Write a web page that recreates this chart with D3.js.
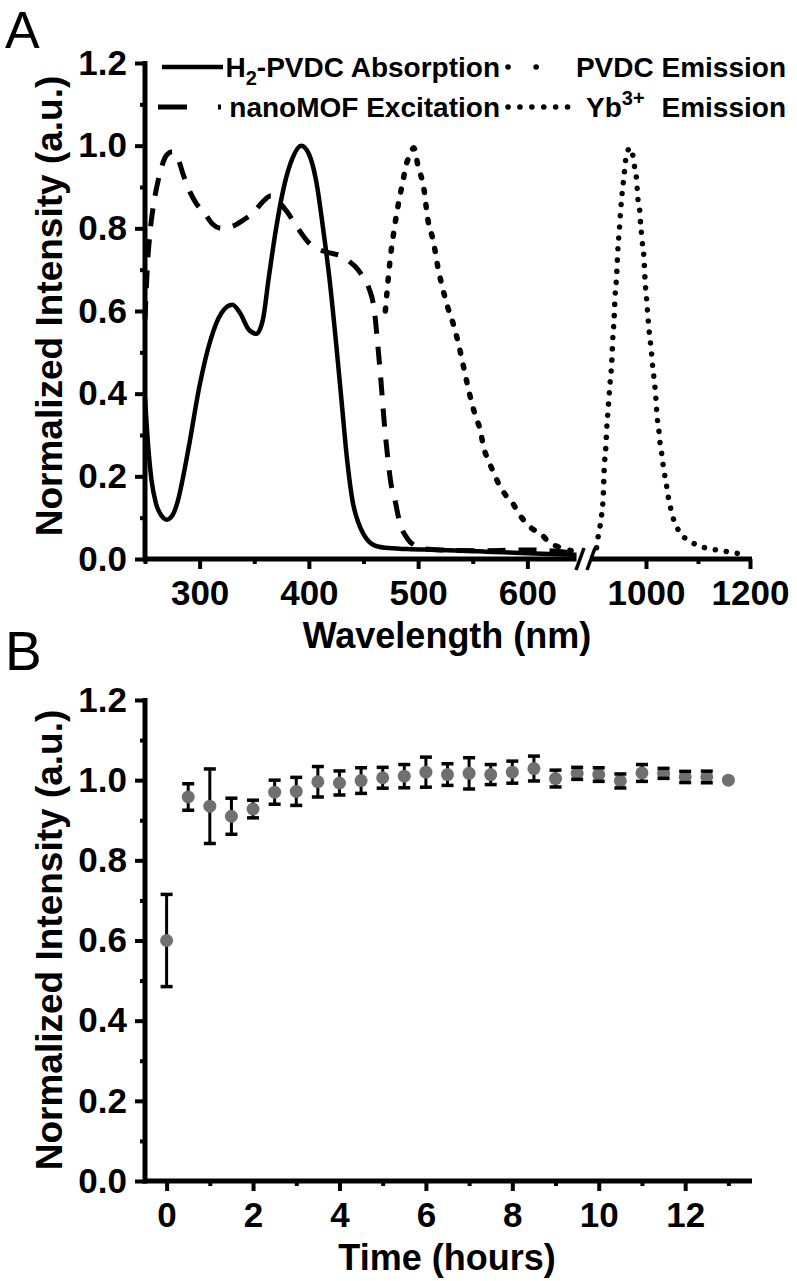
<!DOCTYPE html>
<html><head><meta charset="utf-8">
<script src="https://cdn.jsdelivr.net/npm/d3@7"></script>
<style>body{margin:0;background:#fff}svg{display:block}</style>
</head><body>
<svg id="c" width="797" height="1281"></svg>
<script>
// ---------- Panel A data ----------
const absWl = [250,253,256,260,265,270,275,280,285,290,300,310,320,330,337,345,352,358,363,370,378,385,393,400,407,413,419,425,430,435,440,445,450,455,460,470,490,520,560,600,645];
const absVal = [0.39,0.27,0.19,0.135,0.105,0.095,0.105,0.14,0.2,0.27,0.42,0.53,0.595,0.615,0.595,0.555,0.545,0.58,0.675,0.8,0.91,0.97,1.0,0.98,0.91,0.8,0.675,0.52,0.38,0.24,0.14,0.09,0.06,0.042,0.033,0.027,0.024,0.022,0.018,0.014,0.01];

const excWl = [250,252,255,258,262,266,270,275,280,285,290,297,305,312,320,330,340,350,358,365,372,380,390,400,410,420,430,437,445,450,455,460,463,466,469,472,475,479,483,490,497,505,520,560,600,640];
const excVal = [0.58,0.7,0.8,0.86,0.915,0.955,0.978,0.985,0.97,0.93,0.895,0.86,0.835,0.81,0.8,0.805,0.82,0.84,0.865,0.878,0.865,0.84,0.8,0.765,0.748,0.74,0.733,0.72,0.7,0.68,0.655,0.6,0.52,0.43,0.33,0.25,0.185,0.14,0.09,0.05,0.032,0.025,0.022,0.02,0.022,0.015];

const pvdcWl = [470,472,474,478,482,486,489,492.5,496,500,505,509,514,518,522,527,532,537,542,547,552,557,560,564,569,575,580,586,592,598,604,612,620,630,640];
const pvdcVal = [0.6,0.66,0.715,0.796,0.86,0.913,0.953,0.977,0.995,0.95,0.9,0.82,0.768,0.707,0.66,0.61,0.57,0.52,0.46,0.4,0.35,0.31,0.27,0.24,0.21,0.175,0.155,0.138,0.11,0.09,0.074,0.062,0.04,0.028,0.02];

const ybWl = [905,908,911.5,914.7,918,919.5,922.4,924.5,927.5,930.8,934,936,938.5,940.5,943.6,945.5,948.7,951.3,955,957.7,959.6,962.9,969,975.6,978.8,982,983.5,985,988.5,989.7,991.7,993.6,996,998,1001.3,1004.5,1006.4,1009,1011,1012.9,1015,1019,1020.6,1022.4,1025,1027,1030,1033,1036.5,1039.8,1042.9,1047.4,1052.5,1059,1068.6,1081,1097.4,1116.7,1135.9,1155,1174,1193.6];
const ybVal = [0.027,0.054,0.078,0.106,0.159,0.215,0.264,0.316,0.368,0.425,0.474,0.53,0.578,0.635,0.687,0.74,0.796,0.844,0.897,0.925,0.953,0.977,0.995,0.97,0.941,0.917,0.889,0.864,0.836,0.808,0.784,0.756,0.731,0.679,0.627,0.574,0.546,0.518,0.494,0.465,0.441,0.389,0.36,0.332,0.308,0.28,0.256,0.227,0.199,0.175,0.15,0.123,0.098,0.078,0.058,0.046,0.034,0.026,0.022,0.018,0.014,0.01];

const xMajorA = [300,400,500,600,1000,1200];
const xMinorA = [250,350,450,550,1100];
const yMajor = [0,0.2,0.4,0.6,0.8,1.0,1.2];
const yMinor = [0.1,0.3,0.5,0.7,0.9,1.1];

// ---------- Panel B data ----------
const times = [0,0.5,1,1.5,2,2.5,3,3.5,4,4.5,5,5.5,6,6.5,7,7.5,8,8.5,9,9.5,10,10.5,11,11.5,12,12.5,13];
const means = [0.60,0.958,0.935,0.91,0.928,0.97,0.972,0.996,0.993,0.999,1.006,1.01,1.02,1.014,1.017,1.014,1.02,1.029,1.004,1.017,1.014,0.998,1.018,1.017,1.008,1.008,1.0];
const errs  = [0.115,0.033,0.093,0.045,0.022,0.03,0.035,0.038,0.03,0.032,0.026,0.029,0.0375,0.027,0.039,0.025,0.0275,0.031,0.021,0.015,0.017,0.0175,0.021,0.0125,0.014,0.0145,0];
const xMajorB = [0,2,4,6,8,10,12];
const xMinorB = [1,3,5,7,9,11,13];

// ---------- drawing ----------
const FONT = "'Liberation Sans', Arial, Helvetica, sans-serif";
const svg = d3.select("#c");

const xA = d3.scaleLinear().domain([250,650,900,1200]).range([145,582,594,750]);
const yA = d3.scaleLinear().domain([0,1.2]).range([559,63]);
const xB = d3.scaleLinear().domain([-0.5,13.5]).range([145,750]);
const yB = d3.scaleLinear().domain([0,1.2]).range([1181,700]);

function styleAxis(g, labels){
  g.select(".domain").remove();
  g.selectAll(".tick line").attr("stroke","#000").attr("stroke-width",4);
  g.selectAll(".tick text").attr("fill","#000").style("font-family",FONT)
    .style("font-weight","bold").style("font-size","35px");
  if(!labels) g.selectAll(".tick text").remove();
}

function drawYAxis(y, x0){
  svg.append("g").attr("transform",`translate(${x0},0)`)
    .call(d3.axisLeft(y).tickValues(yMajor).tickSize(10).tickPadding(8).tickFormat(d3.format(".1f")))
    .call(g=>styleAxis(g,true));
  svg.append("g").attr("transform",`translate(${x0},0)`)
    .call(d3.axisLeft(y).tickValues(yMinor).tickSize(5))
    .call(g=>styleAxis(g,false));
  const r = y.range();
  svg.append("line").attr("x1",x0).attr("x2",x0).attr("y1",r[1]-2).attr("y2",r[0]+2.5)
    .attr("stroke","#000").attr("stroke-width",5);
}

// Panel A axes
drawYAxis(yA,145);
svg.append("g").attr("transform","translate(0,559)")
  .call(d3.axisBottom(xA).tickValues(xMajorA).tickSize(10).tickPadding(11).tickFormat(d3.format("d")))
  .call(g=>styleAxis(g,true));
svg.append("g").attr("transform","translate(0,559)")
  .call(d3.axisBottom(xA).tickValues(xMinorA).tickSize(5))
  .call(g=>styleAxis(g,false));
svg.append("line").attr("x1",143).attr("x2",xA(645)).attr("y1",559).attr("y2",559).attr("stroke","#000").attr("stroke-width",5);
svg.append("line").attr("x1",xA(905)-6).attr("x2",752).attr("y1",559).attr("y2",559).attr("stroke","#000").attr("stroke-width",5);
[[576,584],[587,595]].forEach(([a,b])=>{
  svg.append("line").attr("x1",a).attr("y1",570).attr("x2",b).attr("y2",548).attr("stroke","#000").attr("stroke-width",3.5);
});

// Panel A curves
const line = d3.line().x(d=>xA(d[0])).y(d=>yA(d[1])).curve(d3.curveMonotoneX);
const zip=(a,b)=>a.map((v,i)=>[v,b[i]]);
const gA = svg.append("g").attr("fill","none").attr("stroke","#000");
gA.append("path").attr("d",line(zip(absWl,absVal))).attr("stroke-width",4.5);
gA.append("path").attr("d",line(zip(excWl,excVal))).attr("stroke-width",5).attr("stroke-dasharray","18,13");
gA.append("path").attr("d",line(zip(pvdcWl,pvdcVal))).attr("stroke-width",5.5).attr("stroke-linecap","round").attr("stroke-dasharray","3,12");
gA.append("path").attr("d",line(zip(ybWl,ybVal))).attr("stroke-width",5.5).attr("stroke-linecap","round").attr("stroke-dasharray","0.1,11");

// Legend
const lg = svg.append("g").attr("stroke","#000").attr("fill","none");
lg.append("line").attr("x1",162).attr("x2",223).attr("y1",67).attr("y2",67).attr("stroke-width",4.5);
lg.append("line").attr("x1",158).attr("x2",221).attr("y1",107).attr("y2",107).attr("stroke-width",5).attr("stroke-dasharray","29,31,3");
lg.append("line").attr("x1",508).attr("x2",537).attr("y1",67).attr("y2",67).attr("stroke-width",5.5).attr("stroke-linecap","round").attr("stroke-dasharray","0.1,28");
lg.append("line").attr("x1",508).attr("x2",568).attr("y1",107).attr("y2",107).attr("stroke-width",5.5).attr("stroke-linecap","round").attr("stroke-dasharray","0.1,11.8");

function txt(x,y,anchor,size){
  return svg.append("text").attr("x",x).attr("y",y).attr("text-anchor",anchor)
    .style("font-family",FONT).style("font-weight","bold").style("font-size",size+"px").attr("fill","#000");
}
const t1 = txt(500,77,"end",28);
t1.append("tspan").text("H");
t1.append("tspan").text("2").style("font-size","20px").attr("dy",8);
t1.append("tspan").text("-PVDC Absorption").attr("dy",-8);
txt(500,117,"end",28).text("nanoMOF Excitation");
txt(786,77,"end",28).text("PVDC Emission");
const t4 = txt(586,117,"start",28);
t4.append("tspan").text("Yb");
t4.append("tspan").text("3+").style("font-size","20px").attr("dy",-12);
txt(786,117,"end",28).text("Emission");

// Axis titles A
txt(447,648,"middle",36).text("Wavelength (nm)");
txt(0,0,"middle",37).attr("transform","translate(62,306) rotate(-90)").text("Normalized Intensity (a.u.)");
svg.append("text").attr("x",5).attr("y",48).style("font-family",FONT).style("font-size","52px").attr("fill","#000").text("A");

// Panel B axes
drawYAxis(yB,145);
svg.append("g").attr("transform","translate(0,1181)")
  .call(d3.axisBottom(xB).tickValues(xMajorB).tickSize(10).tickPadding(11).tickFormat(d3.format("d")))
  .call(g=>styleAxis(g,true));
svg.append("g").attr("transform","translate(0,1181)")
  .call(d3.axisBottom(xB).tickValues(xMinorB).tickSize(5))
  .call(g=>styleAxis(g,false));
svg.append("line").attr("x1",143).attr("x2",752).attr("y1",1181).attr("y2",1181).attr("stroke","#000").attr("stroke-width",5);

txt(447,1270,"middle",36).text("Time (hours)");
txt(0,0,"middle",37).attr("transform","translate(62,940) rotate(-90)").text("Normalized Intensity (a.u.)");
svg.append("text").attr("x",5).attr("y",670).style("font-family",FONT).style("font-size","55px").attr("fill","#000").text("B");

// Panel B marks
const pts = times.map((t,i)=>({t,m:means[i],e:errs[i]}));
const gB = svg.append("g");
gB.selectAll("line.stem").data(pts.filter(d=>d.e>0)).join("line").attr("class","stem")
  .attr("x1",d=>xB(d.t)).attr("x2",d=>xB(d.t)).attr("y1",d=>yB(d.m+d.e)).attr("y2",d=>yB(d.m-d.e))
  .attr("stroke","#000").attr("stroke-width",3);
gB.selectAll("circle").data(pts).join("circle")
  .attr("cx",d=>xB(d.t)).attr("cy",d=>yB(d.m)).attr("r",6.5).attr("fill","#707070");
const caps = pts.filter(d=>d.e>0).flatMap(d=>[{t:d.t,v:d.m+d.e},{t:d.t,v:d.m-d.e}]);
gB.selectAll("line.cap").data(caps).join("line").attr("class","cap")
  .attr("x1",d=>xB(d.t)-6).attr("x2",d=>xB(d.t)+6).attr("y1",d=>yB(d.v)).attr("y2",d=>yB(d.v))
  .attr("stroke","#000").attr("stroke-width",3.5);
</script>
</body></html>
